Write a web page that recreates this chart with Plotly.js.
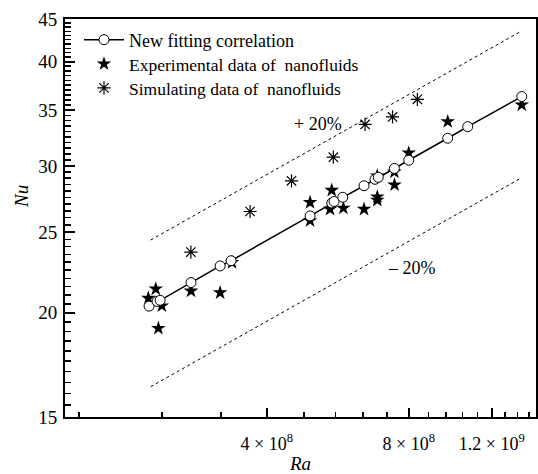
<!DOCTYPE html>
<html>
<head>
<meta charset="utf-8">
<script src="https://cdn.plot.ly/plotly-3.0.1.min.js"></script>
<style>html,body{margin:0;padding:0;background:#fff;}#chart{width:538px;height:474px;}</style>
</head>
<body>
<div id="chart"></div>
<script>
// New fitting correlation (open circles joined by a line)
const fitRa = [2.252e8, 2.342e8, 2.377e8, 2.764e8, 3.186e8, 3.361e8, 4.942e8, 5.494e8, 5.556e8, 5.797e8, 6.432e8, 6.786e8, 6.896e8, 7.458e8, 8.0e8, 9.678e8, 1.067e9, 1.389e9];
const fitNu = [20.37, 20.64, 20.70, 21.74, 22.76, 23.09, 26.13, 27.08, 27.19, 27.51, 28.40, 28.91, 29.07, 29.79, 30.47, 32.38, 33.43, 36.33];

// Experimental data of nanofluids (filled stars)
const expRa = [2.244e8, 2.327e8, 2.397e8, 2.357e8, 2.764e8, 3.186e8, 3.377e8, 4.942e8, 4.942e8, 5.494e8, 5.449e8, 5.815e8, 6.432e8, 6.863e8, 6.863e8, 7.464e8, 7.458e8, 6.86e8, 8.0e8, 9.678e8, 1.389e9];
const expNu = [20.82, 21.36, 20.39, 19.16, 21.24, 21.14, 22.98, 27.12, 25.79, 28.05, 26.62, 26.70, 26.62, 27.54, 27.29, 28.47, 29.50, 29.18, 31.09, 33.90, 35.50];

// Simulating data of nanofluids (asterisks)
const simRa = [2.762e8, 3.687e8, 4.514e8, 5.536e8, 6.464e8, 7.392e8, 8.344e8];
const simNu = [23.65, 26.45, 28.79, 30.73, 33.64, 34.34, 36.05];

// +20% / -20% bounds
const boundRa = [2.27e8, 1.389e9];
const upperNu = [24.45, 43.55];
const lowerNu = [16.31, 29.04];

// Axis ticks
const xTickVals = [4e8, 8e8, 1.2e9];
const xTickText = ['4 \u00d7 10<sup>8</sup>', '8 \u00d7 10<sup>8</sup>', '1.2 \u00d7 10<sup>9</sup>'];
const xMinorVals = [1.6e8, 2.4e8, 3.2e8, 4.8e8, 5.6e8, 6.4e8, 7.2e8, 8.8e8, 9.6e8, 1.04e9, 1.12e9, 1.28e9, 1.36e9, 1.44e9];
const yTickVals = [15, 20, 25, 30, 35, 40, 45];
const yMinorVals = [];
for (let v = 15.5; v < 45; v += 0.5) { if (v % 5 !== 0) yMinorVals.push(v); }

const legendNames = ['New fitting correlation', 'Experimental data of\u00a0 nanofluids', 'Simulating data of\u00a0 nanofluids'];

const FONT = '"Times New Roman", "Liberation Serif", "DejaVu Serif", Times, serif';

const L = 65, R = 536, T = 19, B = 417;
const px = v => (v - L) / (R - L);
const py = v => (B - v) / (B - T);

const traces = [
  {x: boundRa, y: upperNu, mode: 'lines', line: {color: '#000', width: 1, dash: '3px,3px'}, showlegend: false, hoverinfo: 'skip'},
  {x: boundRa, y: lowerNu, mode: 'lines', line: {color: '#000', width: 1, dash: '3px,3px'}, showlegend: false, hoverinfo: 'skip'},
  {x: expRa, y: expNu, mode: 'markers', name: legendNames[1], legend: 'legend2',
   marker: {symbol: 'star', size: 11, color: '#000', line: {width: 0}}},
  {x: simRa, y: simNu, mode: 'markers', name: legendNames[2], legend: 'legend3',
   marker: {symbol: 'asterisk-open', size: 11, color: '#000', line: {width: 1.2, color: '#111'}}},
  {x: fitRa, y: fitNu, mode: 'lines+markers', name: legendNames[0], legend: 'legend',
   line: {color: '#000', width: 1.5},
   marker: {symbol: 'circle', size: 10, color: '#fff', line: {width: 1, color: '#000'}}}
];

const mkLegend = (yc, fs) => ({x: px(79), y: py(yc), xanchor: 'left', yanchor: 'middle', bgcolor: 'rgba(0,0,0,0)',
  font: {family: FONT, size: fs, color: '#000'}, itemclick: false, borderwidth: 0, itemwidth: 40});

const layout = {
  width: 538, height: 474,
  margin: {l: 65, r: 2, t: 19, b: 57},
  paper_bgcolor: '#fff', plot_bgcolor: '#fff',
  font: {family: FONT, size: 18, color: '#000'},
  showlegend: true,
  legend: mkLegend(40, 18),
  legend2: mkLegend(64, 17.5),
  legend3: mkLegend(88, 17.5),
  xaxis: {
    type: 'log', range: [Math.log10(1.494e8), Math.log10(1.489e9)],
    tickmode: 'array', tickvals: xTickVals, ticktext: xTickText,
    ticks: 'inside', ticklen: 9, tickwidth: 2, tickcolor: '#000',
    minor: {tickmode: 'array', tickvals: xMinorVals, ticks: 'inside', ticklen: 5, tickwidth: 1.5, tickcolor: '#000', showgrid: false},
    showgrid: false, zeroline: false,
    showline: true, linecolor: '#000', linewidth: 2, mirror: true,
    tickfont: {family: FONT, size: 18, color: '#000'}, ticklabelstandoff: 9,
    title: {text: '<i>Ra</i>', font: {family: FONT, size: 19, color: '#000'}, standoff: 1}
  },
  yaxis: {
    type: 'log', range: [Math.log10(15), Math.log10(45)],
    tickmode: 'array', tickvals: yTickVals, ticktext: yTickVals.map(String),
    ticks: 'inside', ticklen: 10, tickwidth: 2, tickcolor: '#000',
    minor: {tickmode: 'array', tickvals: yMinorVals, ticks: 'inside', ticklen: 6, tickwidth: 1.5, tickcolor: '#000', showgrid: false},
    showgrid: false, zeroline: false,
    showline: true, linecolor: '#000', linewidth: 2, mirror: true,
    tickfont: {family: FONT, size: 19, color: '#000'}, ticklabelstandoff: 2
  },
  annotations: [
    {xref: 'paper', yref: 'paper', x: px(21), y: py(197), xanchor: 'center', yanchor: 'middle',
     text: '<i>Nu</i>', textangle: -90, showarrow: false, font: {family: FONT, size: 19, color: '#000'}},
    {xref: 'paper', yref: 'paper', x: px(318), y: py(124), xanchor: 'center', yanchor: 'middle',
     text: '+ 20%', showarrow: false, font: {family: FONT, size: 18, color: '#000'}},
    {xref: 'paper', yref: 'paper', x: px(412), y: py(268), xanchor: 'center', yanchor: 'middle',
     text: '\u2013 20%', showarrow: false, font: {family: FONT, size: 18, color: '#000'}}
  ]
};

Plotly.newPlot('chart', traces, layout, {displayModeBar: false, staticPlot: true});
</script>
</body>
</html>
